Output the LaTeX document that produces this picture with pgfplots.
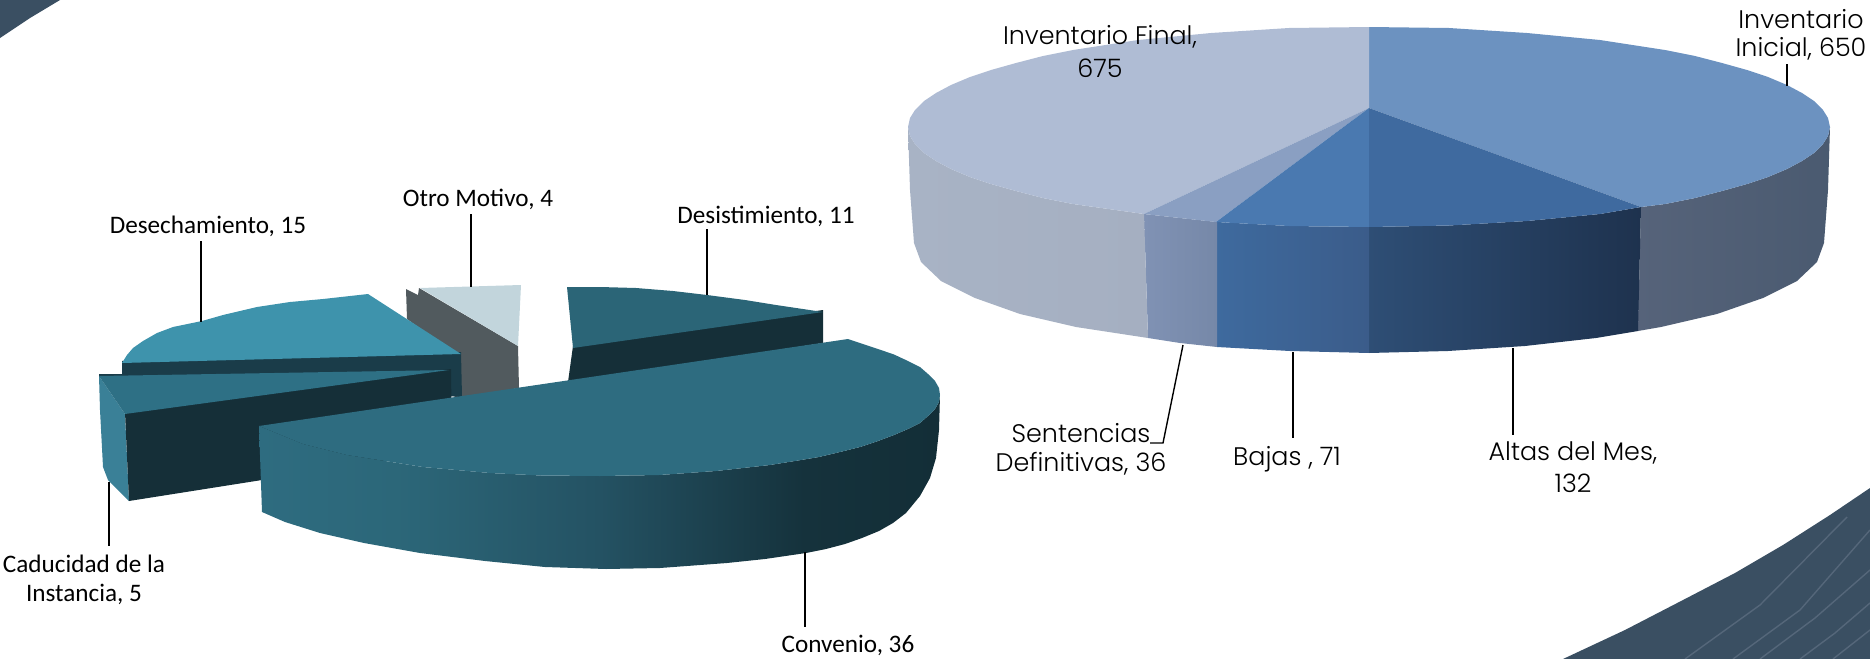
\documentclass[border=0pt]{standalone}
\usepackage{fontspec}
\setmainfont{Carlito}
\newfontfamily\gothic{Poppins Light}
\usepackage{pgfplots}
\pgfplotsset{compat=1.18}
\definecolor{swoosh}{HTML}{3A4F62}
\definecolor{swline}{HTML}{55677A}
\definecolor{cva}{RGB}{46,108,128}
\definecolor{cvb}{RGB}{44,103,121}
\definecolor{cvc}{RGB}{36,82,99}
\definecolor{cvd}{RGB}{21,50,60}
\definecolor{cve}{RGB}{19,46,55}
\pgfdeclarehorizontalshading{conv}{100bp}{color(0bp)=(cva); color(25bp)=(cva); color(35bp)=(cvb); color(50bp)=(cvc); color(65bp)=(cvd); color(75bp)=(cve); color(100bp)=(cve)}
\pgfplotsset{
  area/.style={draw=none, forget plot},
  leader/.style={black, line width=0.7pt, forget plot},
}
\tikzset{
  lab/.style={font=\fontsize{12.6pt}{14pt}\selectfont, black, inner sep=0pt, align=center},
  glab/.style={font=\gothic\fontsize{12.7pt}{14pt}\selectfont, black, inner sep=0pt, align=center},
}
\begin{document}
\begin{tikzpicture}
\begin{axis}[
  scale only axis, width=935pt, height=329.5pt,
  xmin=0, xmax=1870, ymin=0, ymax=659, y dir=reverse,
  axis lines=none, no markers, clip=true,
]
% background swooshes
\addplot[area, fill=swoosh] coordinates {(0,0)(60,0)(30,18)(0,38)} -- cycle;
\addplot[area, fill=swoosh] coordinates {(1563,659)(1625,630)(1683,600)(1735,573)(1783,545)(1830,515)(1870,488)(1870,659)} -- cycle;
\addplot[swline, line width=0.7pt, forget plot] coordinates {(1685,659)(1760,605)(1847,517)};
\addplot[swline, line width=0.7pt, forget plot] coordinates {(1733,659)(1800,610)(1870,530)};
\addplot[swline, line width=0.7pt, forget plot] coordinates {(1760,659)(1815,618)(1870,570)};
\addplot[swline, line width=0.7pt, forget plot] coordinates {(1800,659)(1835,633)(1870,603)};
\addplot[swline, line width=0.7pt, forget plot] coordinates {(1833,659)(1870,630)};

% RIGHT PIE: walls
\addplot[area, left color={rgb,255:red,86;green,99;blue,122}, right color={rgb,255:red,74;green,90;blue,112}] coordinates {(1641,207)(1665,204)(1695,198)(1722,191)(1747,184)(1768,177)(1787,169)(1802,161)(1814,153)(1823,144)(1828,136)(1830,127)(1828,190)(1824,243)(1817,262)(1797,281)(1763,298)(1717,314)(1661,327)(1638,331)} -- cycle;
\addplot[area, left color={rgb,255:red,46;green,78;blue,117}, right color={rgb,255:red,30;green,50;blue,78}] coordinates {(1369,227)(1449,225.5)(1527,221)(1600,214)(1641,207)(1638,331)(1596,338)(1525,346)(1448,351)(1369,353)} -- cycle;
\addplot[area, left color={rgb,255:red,62;green,106;blue,158}, right color={rgb,255:red,59;green,92;blue,138}] coordinates {(1217,222)(1289,226)(1369,227)(1369,353)(1290,351)(1217,347)} -- cycle;
\addplot[area, left color={rgb,255:red,128;green,146;blue,180}, right color={rgb,255:red,118;green,136;blue,168}] coordinates {(1144,214)(1180,218)(1217,222)(1217,347)(1180,343)(1148,338)} -- cycle;
\addplot[area, left color={rgb,255:red,168;green,179;blue,197}, middle color={rgb,255:red,172;green,185;blue,211}, right color={rgb,255:red,165;green,175;blue,193}] coordinates {(908,127)(910,136)(915,144)(924,153)(936,161)(951,169)(970,177)(991,184)(1016,191)(1043,198)(1073,204)(1144,214)(1148,338)(1076,327)(1020,314)(975,298)(941,281)(921,262)(914,243)(910,190)} -- cycle;
% RIGHT PIE: tops
\addplot[area, fill={rgb,255:red,108;green,146;blue,192}] coordinates {(1369,108)(1369,27)(1449,28)(1527,33)(1600,40)(1665,50)(1695,56)(1722,63)(1747,70)(1768,77)(1787,85)(1802,93)(1814,101)(1823,110)(1828,118)(1830,127)(1828,136)(1823,144)(1814,153)(1802,161)(1787,169)(1768,177)(1747,184)(1722,191)(1695,198)(1665,204)(1641,207)} -- cycle;
\addplot[area, fill={rgb,255:red,175;green,188;blue,212}] coordinates {(1369,108)(1369,27)(1289,28)(1211,33)(1138,40)(1073,50)(1043,56)(1016,63)(991,70)(970,77)(951,85)(936,93)(924,101)(915,110)(910,118)(908,127)(910,136)(915,144)(924,153)(936,161)(951,169)(970,177)(991,184)(1016,191)(1043,198)(1073,204)(1144,214)} -- cycle;
\addplot[area, fill={rgb,255:red,138;green,159;blue,194}] coordinates {(1369,108)(1144,214)(1180,218)(1216,222)} -- cycle;
\addplot[area, fill={rgb,255:red,74;green,121;blue,176}] coordinates {(1369,108)(1216,222)(1289,226)(1369,227)} -- cycle;
\addplot[area, fill={rgb,255:red,63;green,106;blue,159}] coordinates {(1369,108)(1369,227)(1449,225.5)(1527,221)(1600,214)(1641,207)} -- cycle;

% LEFT PIE
% Otro Motivo
\addplot[area, fill={rgb,255:red,81;green,90;blue,94}] coordinates {(406,289)(418,295)(419,288)(518,346)(519,388)(455,398)(450,350)(407,319)} -- cycle;
\addplot[area, fill={rgb,255:red,194;green,213;blue,220}] coordinates {(420,288)(521,285)(518,346)} -- cycle;
% Desistimiento
\addplot[area, fill={rgb,255:red,21;green,47;blue,56}] coordinates {(573,346)(823,310)(823,343)(568,382)} -- cycle;
\addplot[area, fill={rgb,255:red,43;green,101;blue,119}] coordinates {(567,287)(600,287)(636,288)(673,291)(707,295)(745,300)(776,305)(823,312)(573,348)} -- cycle;
% Desechamiento
\addplot[area, fill={rgb,255:red,26;green,60;blue,73}] coordinates {(122,361)(461,352)(462,397)(122,376)} -- cycle;
\addplot[area, fill={rgb,255:red,62;green,147;blue,172}] coordinates {(461,354)(368,294)(323,299)(290,302)(257,307)(223,315)(202,321)(173,327)(157,333)(143,341)(133,348)(127,355)(122,363)} -- cycle;
% Caducidad
\addplot[area, fill={rgb,255:red,26;green,60;blue,73}] coordinates {(99,374)(122,374)(122,378)(99,378)} -- cycle;
\addplot[area, fill={rgb,255:red,58;green,128;blue,151}] coordinates {(99,376)(125,414)(129,501)(108,480)(103,467)(100,410)} -- cycle;
\addplot[area, fill={rgb,255:red,21;green,47;blue,56}] coordinates {(125,412)(451,369)(452,450)(129,501)} -- cycle;
\addplot[area, fill={rgb,255:red,46;green,112;blue,133}] coordinates {(99,376)(449,370)(125,414)} -- cycle;
% Convenio
\addplot[area, shading=conv] coordinates {(940,395)(939,402)(935,409)(928,416)(920,423)(908,429)(894,435)(878,441)(860,447)(840,452)(819,457)(795,461)(770,465)(716,471)(659,475)(600,476)(541,475.5)(490,473)(423,467)(347,455)(303,444)(259,426)(262,512)(285,522)(320,533)(364,543)(420,553)(485,561)(545,567)(606,569)(660,568)(727,563)(765,559)(806,553)(826,549)(845,544)(862,538)(879,531)(893,523)(906,513)(920,496)(930,478)(936,458)(939,430)} -- cycle;
\addplot[area, fill={rgb,255:red,46;green,108;blue,128}] coordinates {(259,426)(848,339)(860,343)(878,349)(894,354.5)(908,361)(920,367)(928,374)(935,381)(939,388)(940,395)(939,402)(935,409)(928,416)(920,423)(908,429)(894,435)(878,441)(860,447)(840,452)(819,457)(795,461)(770,465)(716,471)(659,475)(600,476)(541,475.5)(490,473)(423,467)(347,455)(303,444)} -- cycle;

% leaders
\addplot[leader] coordinates {(201,241)(201,322)};
\addplot[leader] coordinates {(471,214)(471,287)};
\addplot[leader] coordinates {(707,229)(707,295)};
\addplot[leader] coordinates {(109,482)(109,546)};
\addplot[leader] coordinates {(805,552)(805,627)};
\addplot[leader] coordinates {(1787,64)(1787,86)};
\addplot[leader] coordinates {(1513,348)(1513,435)};
\addplot[leader] coordinates {(1293,352)(1293,438)};
\addplot[leader] coordinates {(1183,345)(1163,443)(1150,443)};

% labels
\node[lab] at (axis cs:208,226) {Desechamiento, 15};
\node[lab] at (axis cs:478,199) {Otro Motivo, 4};
\node[lab] at (axis cs:766,216) {Desistimiento, 11};
\node[lab] at (axis cs:84,564) {Caducidad de la};
\node[lab] at (axis cs:84,594) {Instancia, 5};
\node[lab] at (axis cs:848,645) {Convenio, 36};
\node[glab] at (axis cs:1100,37) {Inventario Final,};
\node[glab] at (axis cs:1100,68) {675};
\node[glab] at (axis cs:1801,19) {Inventario};
\node[glab] at (axis cs:1801,49) {Inicial, 650};
\node[glab] at (axis cs:1081,433) {Sentencias};
\node[glab] at (axis cs:1081,464) {Definitivas, 36};
\node[glab] at (axis cs:1287,459) {Bajas , 71};
\node[glab] at (axis cs:1573,453) {Altas del Mes,};
\node[glab] at (axis cs:1573,483) {132};
\end{axis}
\end{tikzpicture}
\end{document}
